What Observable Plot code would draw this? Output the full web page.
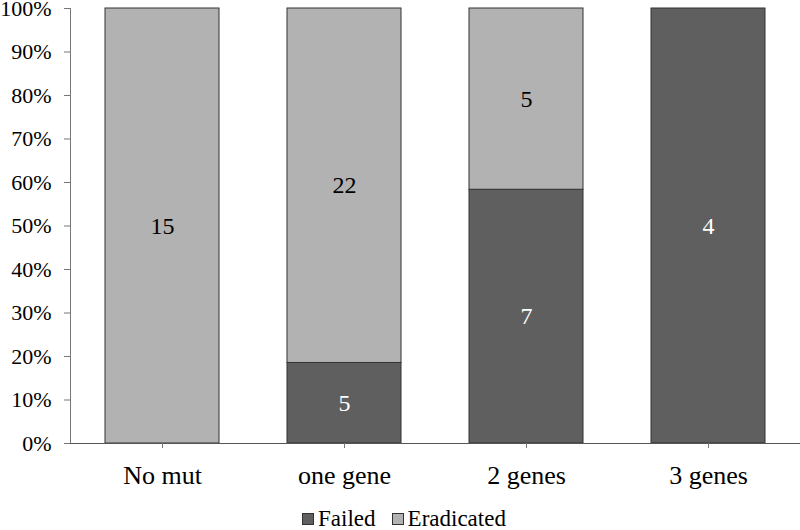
<!DOCTYPE html>
<html><head><meta charset="utf-8">
<script src="https://cdn.jsdelivr.net/npm/d3@7"></script>
<script src="https://cdn.jsdelivr.net/npm/@observablehq/plot@0.6"></script>
<style>
body{margin:0;background:#fff;font-family:"Liberation Serif","Times New Roman",serif;position:relative;width:800px;height:530px;overflow:hidden;}
#legend{position:absolute;left:0;top:506px;width:800px;display:flex;justify-content:center;gap:16px;font-size:23px;line-height:1.15;color:#000;padding-left:8px;box-sizing:border-box;}
#legend span.sw{display:inline-block;width:10px;height:10px;border:1px solid #333;margin-right:4px;}
#legend .it{display:flex;align-items:center;}
</style></head>
<body><div id="chart"></div>
<div id="legend"></div>
<script>
const categories = ["No mut", "one gene", "2 genes", "3 genes"];
const seriesNames = ["Failed", "Eradicated"];
const failed = [0, 5, 7, 4];
const eradicated = [15, 22, 5, 0];
const colors = ["#5f5f5f", "#b2b2b2"];
const textColors = ["#fff", "#000"];
const yTicks = [0,10,20,30,40,50,60,70,80,90,100];

const data = [];
categories.forEach((c,i)=>{
  data.push({cat:c, series:seriesNames[0], value:failed[i]});
  data.push({cat:c, series:seriesNames[1], value:eradicated[i]});
});
const nz = data.filter(d=>d.value>0);

const plot = Plot.plot({
  width: 800, height: 505,
  marginLeft: 70, marginRight: 0, marginTop: 8, marginBottom: 62,
  style: {fontFamily: '"Liberation Serif","Times New Roman",serif', background: "#fff", color: "#000"},
  x: {domain: categories, paddingInner: 0.375, paddingOuter: 0.1875, label: null},
  y: {domain: [0,100], percent: true, label: null},
  color: {domain: seriesNames, range: colors},
  marks: [
    Plot.barY(nz, {x:"cat", y:"value", z:"series", fill:"series", offset:"normalize", stroke:"#333", strokeWidth:1}),
    Plot.text(nz, Plot.stackY({x:"cat", y:"value", z:"series", offset:"normalize", text: d=>String(d.value),
      fill: d => textColors[seriesNames.indexOf(d.series)], fontSize: 24})),
    Plot.frame({anchor:"left", stroke:"#777"}),
    Plot.ruleY([0], {stroke:"#555"}),
    Plot.axisY({ticks: yTicks, tickFormat: d => d + "%", fontSize: 22, tickSize: 6, tickPadding: 13, stroke:"#777", label: null}),
    Plot.axisX({fontSize: 26, tickSize: 5, tickPadding: 17.5, stroke:"#777", label: null})
  ]
});
document.getElementById("chart").appendChild(plot);

const lg = document.getElementById("legend");
seriesNames.forEach((s,i)=>{
  const it = document.createElement("div"); it.className="it";
  const sw = document.createElement("span"); sw.className="sw"; sw.style.background = colors[i];
  it.appendChild(sw); it.appendChild(document.createTextNode(s)); lg.appendChild(it);
});
</script></body></html>
